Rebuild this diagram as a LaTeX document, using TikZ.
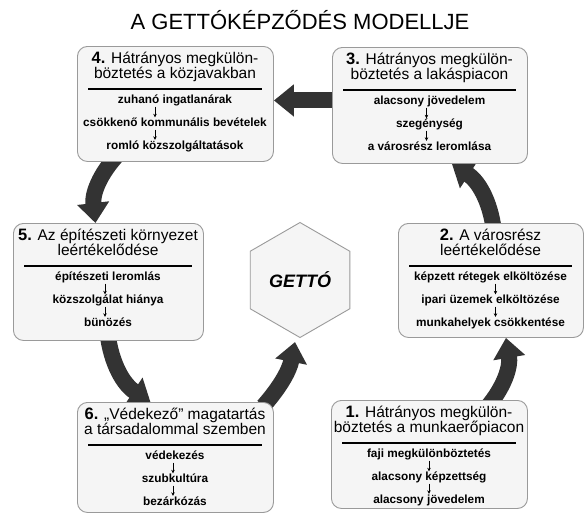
\documentclass[tikz,border=0pt]{standalone}
\usepackage{fontspec}
\setmainfont{Liberation Sans}
\usetikzlibrary{arrows.meta,shapes.geometric}
\pgfdeclarelayer{back}
\pgfdeclarelayer{bg}
\pgfsetlayers{back,bg,main}
\definecolor{boxfill}{HTML}{F5F5F5}
\definecolor{boxline}{HTML}{9A9A9A}
\definecolor{bigarr}{HTML}{333333}
\def\bh{115pt}
\def\aoff{0pt}
\newcommand{\gettobox}[9]{%
  \node[gbox, minimum width=#4pt, minimum height=\bh, anchor=north west] (#1) at (#2,-#3) {};
  \node[headfont, anchor=base] (#1h1) at ({#2+#4/2},{-#3-17.5}) {#5};
  \node[headfont, anchor=base] (#1h2) at ({#2+#4/2},{-#3-32.5}) {#6};
  \draw[rulel] ({#2+11},{-#3-43}) -- ({#2+#4-11},{-#3-43});
  \node[itemfont, anchor=base] (#1a) at ({#2+#4/2},{-#3-57.5}) {#7};
  \node[itemfont, anchor=base] (#1b) at ({#2+#4/2},{-#3-80.5}) {#8};
  \node[itemfont, anchor=base] (#1c) at ({#2+#4/2},{-#3-103}) {#9};
  \draw[smallarr] ([xshift=\aoff]#1a.south) -- ([xshift=\aoff]#1b.north);
  \draw[smallarr] ([xshift=\aoff]#1b.south) -- ([xshift=\aoff]#1c.north);
}
\begin{document}
\begin{tikzpicture}[x=1pt,y=1pt,
  gbox/.style={draw=boxline, fill=boxfill, rounded corners=10pt, line width=0.9pt, inner sep=0pt},
  headfont/.style={font=\fontsize{15.5}{15}\selectfont, inner sep=0pt},
  itemfont/.style={font=\fontsize{11.8}{13}\selectfont\bfseries, inner sep=0.5pt, text height=8.5pt, text depth=2.5pt},
  rulel/.style={draw=black, line width=1.8pt},
  smallarr/.style={draw=black, line width=0.8pt, -{Stealth[length=3.5pt,width=3.5pt]}},
  bigarrow/.style={draw=bigarr, line width=16pt, -{Triangle[width=31pt,length=20pt]}},
  hexa/.style={draw=boxline, fill=boxfill, regular polygon, regular polygon sides=6, shape border rotate=90, minimum size=115pt, inner sep=0pt, line width=0.9pt}
]
\begin{pgfonlayer}{back}
\fill[white] (0,0) rectangle (585,-515);
\end{pgfonlayer}
\useasboundingbox (0,0) rectangle (585,-515);

\node[font=\fontsize{22}{22}\selectfont, inner sep=0pt] (title) at (300,-20) {A GETTÓKÉPZŐDÉS MODELLJE};

\def\bh{115pt}\def\aoff{-20pt}
\gettobox{b4}{77}{46}{196}{{\fontsize{16.5}{15}\selectfont\bfseries 4.} Hátrányos megkülön-}{böztetés a közjavakban}{zuhanó ingatlanárak}{csökkenő kommunális bevételek}{romló közszolgáltatások}
\def\bh{116pt}\def\aoff{-3pt}
\gettobox{b3}{332}{47}{195}{{\fontsize{16.5}{15}\selectfont\bfseries 3.} Hátrányos megkülön-}{böztetés a lakáspiacon}{alacsony jövedelem}{szegénység}{a városrész leromlása}
\def\bh{117pt}\def\aoff{-3pt}
\gettobox{b5}{13}{223}{190}{{\fontsize{16.5}{15}\selectfont\bfseries 5.} Az építészeti környezet}{leértékelődése}{építészeti leromlás}{közszolgálat hiánya}{bünözés}
\def\bh{114pt}\def\aoff{5pt}
\gettobox{b2}{398}{223}{185}{{\fontsize{16.5}{15}\selectfont\bfseries 2.} A városrész}{leértékelődése}{képzett rétegek elköltözése}{ipari üzemek elköltözése}{munkahelyek csökkentése}
\def\bh{110pt}\def\aoff{-2pt}
\gettobox{b6}{77}{402}{196}{{\fontsize{16.5}{15}\selectfont\bfseries 6.} „Védekező” magatartás}{a társadalommal szemben}{védekezés}{szubkultúra}{bezárkózás}
\def\bh{108pt}\def\aoff{0pt}
\gettobox{b1}{331}{400}{196}{{\fontsize{16.5}{15}\selectfont\bfseries 1.} Hátrányos megkülön-}{böztetés a munkaerőpiacon}{faji megkülönböztetés}{alacsony képzettség}{alacsony jövedelem}

\node[hexa, font=\fontsize{18}{18}\selectfont\bfseries\itshape] (getto) at (300,-280) {GETTÓ};

\begin{pgfonlayer}{bg}
\draw[bigarrow] ([yshift=5pt]b3.west) -- ([yshift=3.5pt]b4.east);
\draw[bigarrow] ([xshift=-57pt,yshift=8pt]b4.south) to[bend right=25] ([xshift=-13pt]b5.north);
\draw[bigarrow] ([xshift=-1pt,yshift=8pt]b5.south) to[bend right=25] ([xshift=-25pt]b6.north);
\draw[bigarrow] ([xshift=88pt,yshift=-4pt]b6.north) to[bend right=15] ([shift={(-5pt,-62pt)}]getto.center);
\draw[bigarrow] ([xshift=57pt,yshift=-8pt]b1.north) to[bend right=25] ([xshift=15pt]b2.south);
\draw[bigarrow] ([xshift=3pt,yshift=-8pt]b2.north) to[bend right=25] ([xshift=22pt]b3.south);
\end{pgfonlayer}
\end{tikzpicture}
\end{document}
